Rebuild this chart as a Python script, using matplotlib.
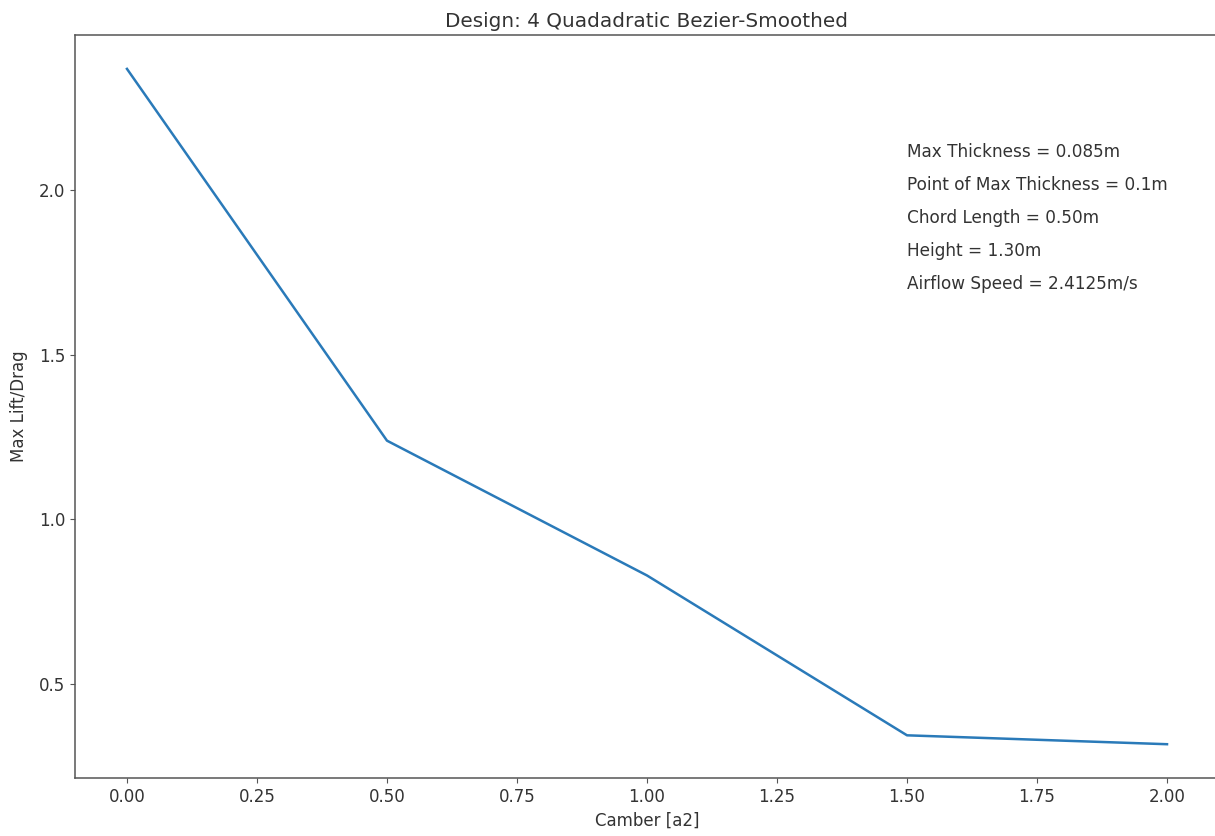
import matplotlib

matplotlib.use("Agg")
import matplotlib.pyplot as plt

# camber sweep results
camber = [0.0, 0.5, 1.0, 1.5, 2.0]
max_lift_drag = [2.367, 1.239, 0.830, 0.345, 0.318]

notes = [
    "Max Thickness = 0.085m",
    "Point of Max Thickness = 0.1m",
    "Chord Length = 0.50m",
    "Height = 1.30m",
    "Airflow Speed = 2.4125m/s",
]
note_y = [2.1, 2.0, 1.9, 1.8, 1.7]

plt.rcParams["text.color"] = "#333333"
plt.rcParams["axes.labelcolor"] = "#333333"
plt.rcParams["xtick.labelcolor"] = "#333333"
plt.rcParams["ytick.labelcolor"] = "#333333"

fig = plt.figure(figsize=(12.15, 8.36), dpi=100)
ax = fig.add_axes([0.0617, 0.0694, 0.9416, 0.8886])

ax.plot(camber, max_lift_drag, color="#2a7ab9", linewidth=1.8)

for txt, y in zip(notes, note_y):
    ax.text(1.5, y, txt, fontsize=12.2)

ax.set_title("Design: 4 Quadadratic Bezier-Smoothed", fontsize=14.4)
ax.set_xlabel("Camber [a2]", fontsize=12)
ax.set_ylabel("Max Lift/Drag", fontsize=12, labelpad=8)
ax.set_xticks([0.0, 0.25, 0.5, 0.75, 1.0, 1.25, 1.5, 1.75, 2.0])
ax.set_yticks([0.5, 1.0, 1.5, 2.0])
ax.tick_params(labelsize=12)
for sp in ax.spines.values():
    sp.set_color("#555555")
    sp.set_linewidth(1.1)
ax.tick_params(color="#555555")

fig.savefig("out.png", dpi=100)
